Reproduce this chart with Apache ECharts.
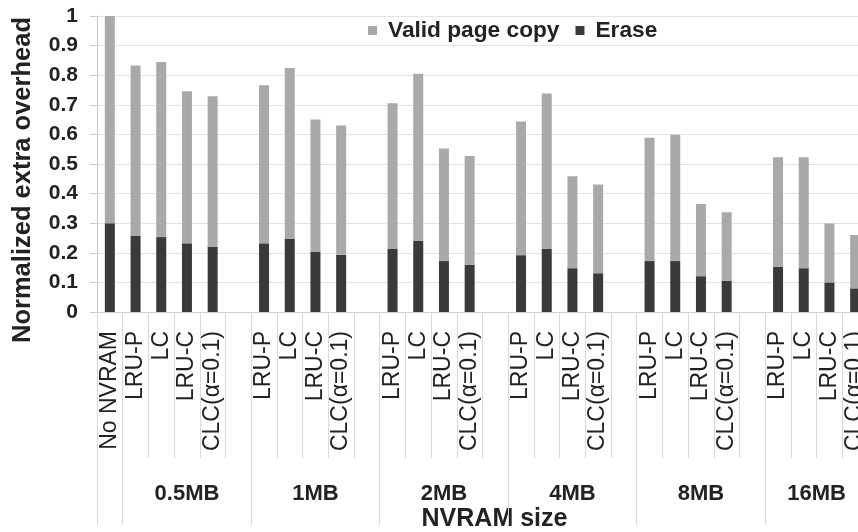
<!DOCTYPE html>
<html>
<head>
<meta charset="utf-8">
<script src="https://cdn.jsdelivr.net/npm/echarts@6/dist/echarts.min.js"></script>
<style>html,body{margin:0;padding:0;background:#fff}#c{width:858px;height:532px}</style>
</head>
<body>
<div id="c"></div>
<script>
const categories = ['No NVRAM',
  'LRU-P','LC','LRU-C','CLC(α=0.1)','',
  'LRU-P','LC','LRU-C','CLC(α=0.1)','',
  'LRU-P','LC','LRU-C','CLC(α=0.1)','',
  'LRU-P','LC','LRU-C','CLC(α=0.1)','',
  'LRU-P','LC','LRU-C','CLC(α=0.1)','',
  'LRU-P','LC','LRU-C','CLC(α=0.1)'];
const eraseValues = [0.30,
  0.257,0.253,0.232,0.221,null,
  0.232,0.247,0.203,0.193,null,
  0.213,0.240,0.172,0.160,null,
  0.192,0.214,0.148,0.131,null,
  0.172,0.172,0.121,0.106,null,
  0.153,0.148,0.100,0.080];
const validCopyValues = [0.70,
  0.576,0.592,0.514,0.508,null,
  0.534,0.577,0.447,0.437,null,
  0.492,0.565,0.380,0.367,null,
  0.452,0.524,0.311,0.300,null,
  0.417,0.427,0.244,0.231,null,
  0.370,0.375,0.199,0.180];
const groupNames = ['0.5MB','1MB','2MB','4MB','8MB','16MB'];
const groupBoundaries = [0,1,6,11,16,21,26];
const groupCenters = [3.5,8.5,13.5,18.5,23.5,28];

const font = 'Liberation Sans, Arial, sans-serif';
const chart = echarts.init(document.getElementById('c'), null, {renderer:'canvas'});
chart.setOption({
  animation:false,
  backgroundColor:'#fff',
  grid:{left:97, right:-10, top:16, bottom:220, containLabel:false, outerBoundsMode:'none'},
  legend:{
    data:['Valid page copy','Erase'],
    left:363, top:14, icon:'rect', itemWidth:9, itemHeight:9, itemGap:16,
    textStyle:{fontFamily:font, fontWeight:'bold', fontSize:22.7, color:'#222', padding:[0,0,0,6]}
  },
  xAxis:[{
    type:'category', data:categories, position:'bottom',
    name:'NVRAM size', nameLocation:'middle', nameGap:195,
    nameTextStyle:{fontFamily:font, fontWeight:'bold', fontSize:25, color:'#222',
      backgroundColor:'#fff', padding:[0,0,0,24]},
    axisLine:{lineStyle:{color:'#d0d0d0', width:1}},
    axisTick:{show:true, length:146, interval:0, lineStyle:{color:'#d9d9d9'}},
    axisLabel:{interval:0, rotate:90, margin:19, fontFamily:font, fontSize:23, color:'#222'},
    splitLine:{show:false}
  },{
    type:'value', position:'bottom', min:0, max:30, offset:0,
    axisLine:{show:false},
    splitLine:{show:false},
    axisTick:{show:true, length:213, customValues:groupBoundaries, lineStyle:{color:'#d9d9d9'}},
    axisLabel:{customValues:groupCenters, margin:171, fontFamily:font, fontWeight:'bold', fontSize:22, color:'#222',
      formatter:function(v){ const i = groupCenters.indexOf(v); return i>=0 ? groupNames[i] : ''; }}
  }],
  yAxis:{
    type:'value', min:0, max:1, interval:0.1,
    name:'Normalized extra overhead', nameLocation:'middle', nameGap:61,
    nameTextStyle:{fontFamily:font, fontWeight:'bold', fontSize:25.5, color:'#222', padding:[0,32,0,0]},
    axisLine:{show:true, lineStyle:{color:'#c8c8c8'}},
    axisTick:{show:true, length:7, lineStyle:{color:'#c8c8c8'}},
    axisLabel:{margin:19, fontFamily:font, fontWeight:'bold', fontSize:21, color:'#222',
      formatter:function(v){ return String(parseFloat(v.toFixed(1))); }},
    splitLine:{show:true, lineStyle:{color:'#e3e3e3'}}
  },
  series:[{
    name:'Erase', type:'bar', stack:'t', data:eraseValues, barWidth:10,
    itemStyle:{color:'#3a3a3a'}, xAxisIndex:0
  },{
    name:'Valid page copy', type:'bar', stack:'t', data:validCopyValues, barWidth:10,
    itemStyle:{color:'#a9a9a9'}, xAxisIndex:0
  }]
});
</script>
</body>
</html>
